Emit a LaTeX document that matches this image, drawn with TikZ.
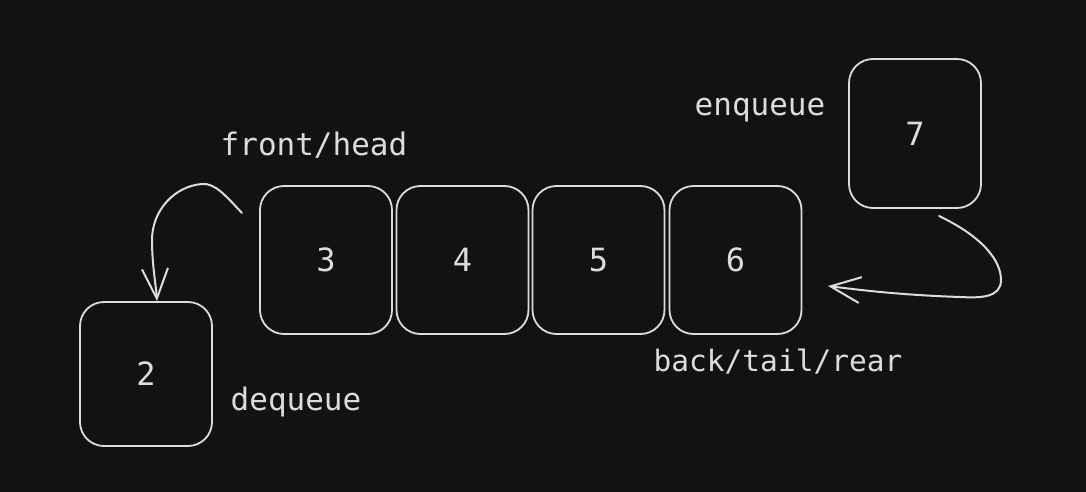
\documentclass[tikz,border=0pt]{standalone}
\usepackage{fontspec}
\setmainfont{DejaVu Sans Mono}
\usetikzlibrary{arrows.meta}
\definecolor{bg}{HTML}{121212}
\definecolor{ink}{HTML}{DCDCDC}
\begin{document}
\begin{tikzpicture}[x=1pt,y=-1pt,
  box/.style={draw=ink, line width=1.8pt, rounded corners=24pt, minimum width=132pt, minimum height=148pt, text=ink, font=\fontsize{32}{36}\selectfont, inner sep=0pt},
  lbl/.style={text=ink, font=\fontsize{31}{36}\selectfont, inner sep=0pt, anchor=center},
  conn/.style={draw=ink, line width=2pt, line cap=round, -{Straight Barb[length=30pt,width=26pt,line width=2pt]}}]
\fill[bg] (0,0) rectangle (1086,492);
\useasboundingbox (0,0) rectangle (1086,492);
\node[box] (b3) at (326,260) {3};
\node[box] (b4) at (462.5,260) {4};
\node[box] (b5) at (598.5,260) {5};
\node[box] (b6) at (735.5,260) {6};
\node[box, minimum height=149pt] (b7) at (915,133.5) {7};
\node[box, minimum height=144pt] (b2) at (146,374) {2};
\node[lbl] (fh) at (314,145) {front/head};
\node[lbl] (enq) at (760,110) {enqueue};
\node[lbl, font=\fontsize{29.5}{36}\selectfont] (btr) at (778,362) {back/tail/rear};
\node[lbl] (deq) at (296,402) {dequeue};
\coordinate (s1) at (242,213);
\coordinate (s2) at (939,216);
\coordinate (e2) at (828,286);
\draw[conn] (s1) .. controls (225,195) and (215,183) .. (202,184)
  .. controls (175,186) and (152,210) .. (152,240)
  .. controls (152,265) and (156,285) .. ([xshift=11pt]b2.north);
\draw[conn] (s2) .. controls (985,238) and (1001,262) .. (1001,280)
  .. controls (1001,298) and (980,298) .. (960,297)
  .. controls (900,295) and (860,290) .. (e2);
\end{tikzpicture}
\end{document}
